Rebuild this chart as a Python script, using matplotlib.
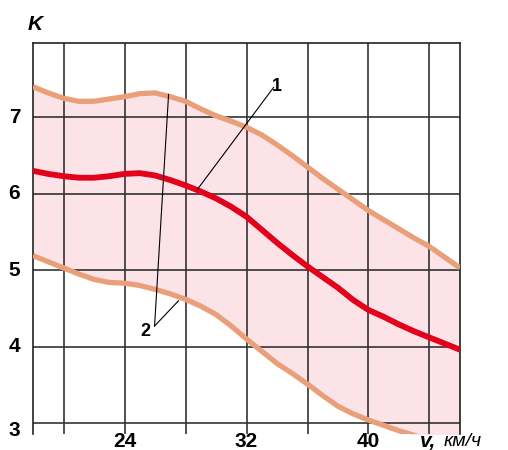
import matplotlib
matplotlib.use("Agg")
import matplotlib.pyplot as plt

plt.rcParams['font.family'] = ['Liberation Sans', 'DejaVu Sans']

# speed v, km/h
v = list(range(18, 47))
# curve 2, upper boundary
k_upper = [7.40, 7.32, 7.25, 7.21, 7.21, 7.24, 7.27, 7.31, 7.32, 7.27, 7.21, 7.11, 7.02, 6.95, 6.87,
           6.77, 6.64, 6.50, 6.35, 6.20, 6.06, 5.92, 5.78, 5.66, 5.54, 5.42, 5.31, 5.17, 5.03]
# curve 1, mean
k_mean = [6.30, 6.26, 6.23, 6.21, 6.21, 6.23, 6.26, 6.27, 6.24, 6.18, 6.11, 6.03, 5.94, 5.83, 5.70,
          5.53, 5.36, 5.20, 5.05, 4.91, 4.77, 4.61, 4.48, 4.39, 4.29, 4.20, 4.12, 4.04, 3.96]
# curve 2, lower boundary
k_lower = [5.19, 5.11, 5.03, 4.95, 4.88, 4.84, 4.83, 4.80, 4.75, 4.69, 4.62, 4.53, 4.42, 4.27, 4.10,
           3.94, 3.78, 3.65, 3.51, 3.36, 3.22, 3.12, 3.04, 2.97, 2.90, 2.84, 2.78, 2.73, 2.68]

x_grid = [20, 24, 28, 32, 36, 40, 44]
y_grid = [3, 4, 5, 6, 7]
x_labels = [24, 32, 40]
y_labels = [3, 4, 5, 6, 7]

fig = plt.figure(figsize=(5.08, 4.5), dpi=100)
ax = fig.add_axes([0.065, 0.036, 0.8405, 0.868])
ax.set_xlim(18, 46)
ax.set_ylim(2.86, 7.97)

ax.fill_between(v, k_lower, k_upper, color="#fce3e7", lw=0, zorder=1)
ax.vlines(x_grid, 2.86, 7.97, color="#333333", lw=1.2, zorder=2)
ax.hlines(y_grid, 18, 46, color="#333333", lw=1.2, zorder=2)

ax.plot(v, k_upper, color="#e9a07a", lw=3.8, zorder=3, solid_capstyle="butt", solid_joinstyle="round")
ax.plot(v, k_lower, color="#e9a07a", lw=3.8, zorder=3, solid_capstyle="butt", solid_joinstyle="round")
ax.plot(v, k_mean, color="#e2001a", lw=4.2, zorder=4, solid_capstyle="butt", solid_joinstyle="round")

for s in ["left", "top", "right"]:
    ax.spines[s].set_color("#222222")
    ax.spines[s].set_linewidth(1.2)
ax.spines["bottom"].set_visible(False)
ax.set_xticks([])
ax.set_yticks([])

# leader lines
ax.plot([33.77, 28.79], [7.39, 6.06], color="black", lw=0.8, zorder=5)
ax.text(34.0, 7.40, "1", fontsize=13, fontweight="bold", ha="center", va="center", zorder=6)
ax.plot([25.97, 26.89], [4.27, 7.30], color="black", lw=0.8, zorder=5)
ax.plot([25.97, 27.54], [4.27, 4.60], color="black", lw=0.8, zorder=5)
ax.text(25.4, 4.20, "2", fontsize=13, fontweight="bold", ha="center", va="center", zorder=6)

# tick labels
for y in y_labels:
    yy = y if y != 3 else 2.9
    ax.text(-0.03, yy, str(y), transform=ax.get_yaxis_transform(), fontsize=15,
            fontweight="bold", ha="right", va="center")
for x in x_labels:
    ax.text(x, -0.02, str(x), transform=ax.get_xaxis_transform(), fontsize=15,
            fontweight="bold", ha="center", va="center")

fig.text(0.827, 0.018, "v,", fontsize=15, fontweight="bold", style="italic", ha="left", va="center")
fig.text(0.873, 0.018, "км/ч", fontsize=14, style="italic", ha="left", va="center")
fig.text(0.055, 0.945, "K", fontsize=15, fontweight="bold", style="italic", ha="left", va="center")

fig.savefig("out.png", dpi=100)
